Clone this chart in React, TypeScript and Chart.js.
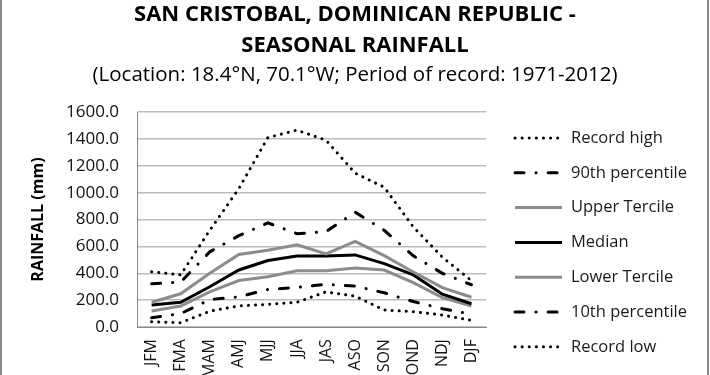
import React, { useEffect, useRef } from "react";
import { Chart, registerables } from "chart.js";

Chart.register(...registerables);

const seasons = ["JFM", "FMA", "MAM", "AMJ", "MJJ", "JJA", "JAS", "ASO", "SON", "OND", "NDJ", "DJF"];
const recordHigh = [412, 388, 720, 1030, 1410, 1465, 1390, 1145, 1040, 745, 520, 345];
const p90 = [322, 335, 560, 680, 775, 695, 710, 855, 720, 530, 400, 315];
const upperTercile = [185, 248, 400, 540, 572, 612, 545, 638, 532, 410, 294, 222];
const median = [164, 184, 300, 425, 495, 528, 528, 537, 472, 388, 245, 174];
const lowerTercile = [120, 157, 262, 346, 375, 419, 419, 439, 424, 331, 219, 157];
const p10 = [70, 100, 205, 225, 280, 295, 318, 305, 255, 190, 137, 95];
const recordLow = [40, 33, 118, 158, 169, 185, 262, 230, 127, 115, 90, 50];

const titleLines = ["SAN CRISTOBAL, DOMINICAN REPUBLIC -", "SEASONAL RAINFALL"];
const subtitleText = "(Location: 18.4°N, 70.1°W; Period of record: 1971-2012)";
const yTitle = "RAINFALL (mm)";

const FONT = "'Open Sans', 'Liberation Sans', sans-serif";
const DOT = [0.1, 7];
const DASHDOT = [9, 12, 0.1, 12];

const borderPlugin = {
  id: "outerBorder",
  afterDraw(chart: any) {
    const ctx = chart.ctx;
    ctx.save();
    ctx.fillStyle = "#8a8a8a";
    ctx.fillRect(0, 0, 2, chart.height);
    ctx.fillRect(chart.width - 3, 0, 2, chart.height);
    ctx.restore();
  },
};

const textPlugin = {
  id: "titles",
  afterDraw(chart: any) {
    const { ctx, chartArea } = chart;
    const cx = chart.width / 2;
    ctx.save();
    ctx.fillStyle = "#000";
    ctx.textAlign = "center";
    ctx.textBaseline = "alphabetic";
    ctx.font = `bold 22px ${FONT}`;
    ctx.fillText(titleLines[0], cx, 21);
    ctx.fillText(titleLines[1], cx, 52);
    ctx.font = `20.5px ${FONT}`;
    ctx.fillText(subtitleText, cx, 81);
    ctx.translate(38, (chartArea.top + chartArea.bottom) / 2);
    ctx.rotate(-Math.PI / 2);
    ctx.textBaseline = "middle";
    ctx.font = `bold 16px ${FONT}`;
    ctx.fillText(yTitle, 0, 0);
    ctx.restore();
  },
};

const legendPlugin = {
  id: "lineLegend",
  afterDraw(chart: any) {
    const { ctx, chartArea } = chart;
    const x0 = chartArea.right + 29;
    const lineLen = 47;
    const firstY = chartArea.top + 26;
    chart.data.datasets.forEach((ds: any, i: number) => {
      const y = firstY + i * 34.8;
      ctx.save();
      ctx.strokeStyle = ds.borderColor;
      ctx.lineWidth = ds.borderWidth;
      ctx.setLineDash(ds.borderDash || []);
      ctx.lineCap = ds.borderCapStyle || "butt";
      ctx.beginPath();
      ctx.moveTo(x0, y);
      ctx.lineTo(x0 + lineLen, y);
      ctx.stroke();
      ctx.setLineDash([]);
      ctx.fillStyle = "#1a1a1a";
      ctx.font = `16.5px ${FONT}`;
      ctx.textBaseline = "middle";
      ctx.textAlign = "left";
      ctx.fillText(ds.label, x0 + 56, y);
      ctx.restore();
    });
  },
};

export default function App() {
  const ref = useRef<HTMLCanvasElement | null>(null);
  useEffect(() => {
    if (!ref.current) return;
    const mk = (label: string, data: number[], color: string, dash: number[] | undefined) => ({
      label,
      data,
      borderColor: color,
      backgroundColor: color,
      borderWidth: 3,
      borderDash: dash || [],
      borderCapStyle: dash ? "round" : "butt",
      pointRadius: 0,
      tension: 0,
      fill: false,
    });
    const chart = new Chart(ref.current, {
      type: "line",
      data: {
        labels: seasons,
        datasets: [
          mk("Record high", recordHigh, "#000000", DOT),
          mk("90th percentile", p90, "#000000", DASHDOT),
          mk("Upper Tercile", upperTercile, "#8c8c8c", undefined),
          mk("Median", median, "#000000", undefined),
          mk("Lower Tercile", lowerTercile, "#8c8c8c", undefined),
          mk("10th percentile", p10, "#000000", DASHDOT),
          mk("Record low", recordLow, "#000000", DOT),
        ] as any,
      },
      options: {
        animation: false,
        responsive: false,
        devicePixelRatio: 1,
        layout: { padding: { left: 48, right: 224, top: 112, bottom: -15 } },
        plugins: {
          title: { display: false },
          subtitle: { display: false },
          legend: { display: false },
          tooltip: { enabled: false },
        },
        scales: {
          x: {
            offset: true,
            grid: { display: false, drawTicks: false },
            border: { color: "#8a8a8a", width: 1 },
            ticks: {
              color: "#111",
              font: { family: FONT, size: 16 },
              minRotation: 90,
              maxRotation: 90,
              padding: 12,
            },
          },
          y: {
            min: 0,
            max: 1600,
            grid: { color: "#bcbcbc", lineWidth: 1.5, drawTicks: false },
            border: { color: "#8a8a8a", width: 1 },
            ticks: {
              stepSize: 200,
              color: "#111",
              font: { family: FONT, size: 17 },
              padding: 18,
              callback: (v: any) => Number(v).toFixed(1),
            },
          },
        },
      },
      plugins: [borderPlugin, textPlugin, legendPlugin],
    } as any);
    return () => chart.destroy();
  }, []);
  return (
    <div style={{ position: "absolute", left: 0, top: 0, width: 710, height: 375, background: "#fff", overflow: "hidden" }}>
      <canvas ref={ref} width={710} height={375} style={{ display: "block" }} />
    </div>
  );
}
